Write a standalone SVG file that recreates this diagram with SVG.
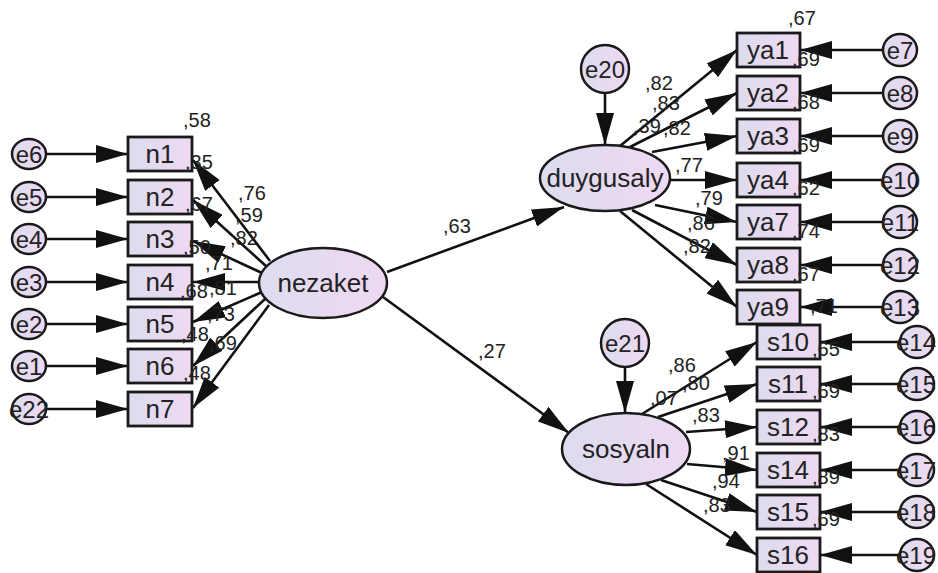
<svg xmlns="http://www.w3.org/2000/svg" width="938" height="573" viewBox="0 0 938 573">
<defs>
<linearGradient id="g" x1="0" y1="0" x2="1" y2="0">
<stop offset="0" stop-color="#dddcee"/>
<stop offset="1" stop-color="#eed9f2"/>
</linearGradient>
<marker id="ah" viewBox="0 0 32 18" refX="32" refY="9" markerWidth="32" markerHeight="18" markerUnits="userSpaceOnUse" orient="auto">
<path d="M0,0 L32,9 L0,18 z" fill="#111"/>
</marker>
<style>
.b{fill:url(#g);stroke:#1a1a1a;stroke-width:2.8}
.c{fill:url(#g);stroke:#1a1a1a;stroke-width:2.5}
.t{font-family:"Liberation Sans",Arial,sans-serif;fill:#222;text-anchor:middle}
.bt{font-size:26px}
.et{font-size:24px}
.lt{font-size:26px}
.v{font-family:"Liberation Sans",Arial,sans-serif;font-size:20px;fill:#222}
.a{stroke:#111;stroke-width:2.6;fill:none;marker-end:url(#ah)}
</style>
</defs>
<rect width="938" height="573" fill="#fff"/>

<g id="connectors">
<line class="a" x1="46" y1="154" x2="128" y2="154"/>
<line class="a" x1="46" y1="197" x2="128" y2="197"/>
<line class="a" x1="46" y1="239" x2="128" y2="239"/>
<line class="a" x1="46" y1="282" x2="128" y2="282"/>
<line class="a" x1="46" y1="324" x2="128" y2="324"/>
<line class="a" x1="46" y1="366" x2="128" y2="366"/>
<line class="a" x1="46" y1="409" x2="128" y2="409"/>
<line class="a" x1="270" y1="261" x2="193" y2="160"/>
<line class="a" x1="266" y1="266" x2="193" y2="200"/>
<line class="a" x1="262" y1="273" x2="193" y2="241"/>
<line class="a" x1="259" y1="282" x2="193" y2="282"/>
<line class="a" x1="262" y1="292" x2="193" y2="322"/>
<line class="a" x1="265" y1="299" x2="193" y2="366"/>
<line class="a" x1="269" y1="305" x2="193" y2="408"/>
<line class="a" x1="387" y1="272" x2="564" y2="207"/>
<line class="a" x1="383" y1="297" x2="569" y2="433"/>
<line class="a" x1="605" y1="94" x2="605" y2="145"/>
<line class="a" x1="625" y1="368" x2="625" y2="413"/>
<line class="a" x1="620" y1="146" x2="737" y2="50"/>
<line class="a" x1="630" y1="147" x2="737" y2="93"/>
<line class="a" x1="652" y1="152" x2="737" y2="136"/>
<line class="a" x1="670" y1="180" x2="737" y2="180"/>
<line class="a" x1="655" y1="205" x2="737" y2="222"/>
<line class="a" x1="632" y1="210" x2="737" y2="265"/>
<line class="a" x1="620" y1="211" x2="737" y2="307"/>
<line class="a" x1="642" y1="414" x2="757" y2="342"/>
<line class="a" x1="658" y1="417" x2="757" y2="384"/>
<line class="a" x1="686" y1="432" x2="757" y2="427"/>
<line class="a" x1="687" y1="464" x2="757" y2="470"/>
<line class="a" x1="661" y1="480" x2="757" y2="512"/>
<line class="a" x1="646" y1="484" x2="757" y2="555"/>
<line class="a" x1="883" y1="50" x2="800" y2="50"/>
<line class="a" x1="883" y1="93" x2="800" y2="93"/>
<line class="a" x1="883" y1="136" x2="800" y2="136"/>
<line class="a" x1="883" y1="180" x2="800" y2="180"/>
<line class="a" x1="883" y1="222" x2="800" y2="222"/>
<line class="a" x1="883" y1="265" x2="800" y2="265"/>
<line class="a" x1="883" y1="307" x2="800" y2="307"/>
<line class="a" x1="900" y1="342" x2="820" y2="342"/>
<line class="a" x1="900" y1="384" x2="820" y2="384"/>
<line class="a" x1="900" y1="427" x2="820" y2="427"/>
<line class="a" x1="900" y1="470" x2="820" y2="470"/>
<line class="a" x1="900" y1="512" x2="820" y2="512"/>
<line class="a" x1="900" y1="555" x2="820" y2="555"/>
</g>

<g id="e6"><ellipse class="c" cx="29" cy="154" rx="17" ry="15"/><text class="t et" x="29" y="163">e6</text></g>
<g id="e5"><ellipse class="c" cx="29" cy="197" rx="17" ry="15"/><text class="t et" x="29" y="206">e5</text></g>
<g id="e4"><ellipse class="c" cx="29" cy="239" rx="17" ry="15"/><text class="t et" x="29" y="248">e4</text></g>
<g id="e3"><ellipse class="c" cx="29" cy="282" rx="17" ry="15"/><text class="t et" x="29" y="291">e3</text></g>
<g id="e2"><ellipse class="c" cx="29" cy="324" rx="17" ry="15"/><text class="t et" x="29" y="333">e2</text></g>
<g id="e1"><ellipse class="c" cx="29" cy="366" rx="17" ry="15"/><text class="t et" x="29" y="375">e1</text></g>
<g id="e22"><ellipse class="c" cx="29" cy="409" rx="17" ry="15"/><text class="t et" x="29" y="418">e22</text></g>

<g id="n1"><rect class="b" x="128" y="137" width="64" height="34"/><text class="t bt" x="160" y="163">n1</text></g>
<g id="n2"><rect class="b" x="128" y="180" width="64" height="34"/><text class="t bt" x="160" y="206">n2</text></g>
<g id="n3"><rect class="b" x="128" y="222" width="64" height="34"/><text class="t bt" x="160" y="248">n3</text></g>
<g id="n4"><rect class="b" x="128" y="265" width="64" height="34"/><text class="t bt" x="160" y="291">n4</text></g>
<g id="n5"><rect class="b" x="128" y="307" width="64" height="34"/><text class="t bt" x="160" y="333">n5</text></g>
<g id="n6"><rect class="b" x="128" y="349" width="64" height="34"/><text class="t bt" x="160" y="375">n6</text></g>
<g id="n7"><rect class="b" x="128" y="392" width="64" height="34"/><text class="t bt" x="160" y="418">n7</text></g>

<g id="nezaket"><ellipse class="c" cx="323" cy="283" rx="64" ry="35"/><text class="t lt" x="323" y="292">nezaket</text></g>
<g id="duygusaly"><ellipse class="c" cx="605" cy="178" rx="65" ry="33"/><text class="t lt" x="605" y="187">duygusaly</text></g>
<g id="sosyaln"><ellipse class="c" cx="626" cy="449" rx="64" ry="36"/><text class="t lt" x="626" y="458">sosyaln</text></g>
<g id="e20"><circle class="c" cx="605" cy="69" r="24"/><text class="t et" x="605" y="78">e20</text></g>
<g id="e21"><circle class="c" cx="625" cy="343" r="24"/><text class="t et" x="625" y="352">e21</text></g>

<g id="ya1"><rect class="b" x="737" y="33" width="63" height="34"/><text class="t bt" x="768" y="59">ya1</text></g>
<g id="ya2"><rect class="b" x="737" y="76" width="63" height="34"/><text class="t bt" x="768" y="102">ya2</text></g>
<g id="ya3"><rect class="b" x="737" y="119" width="63" height="34"/><text class="t bt" x="768" y="145">ya3</text></g>
<g id="ya4"><rect class="b" x="737" y="163" width="63" height="34"/><text class="t bt" x="768" y="189">ya4</text></g>
<g id="ya7"><rect class="b" x="737" y="205" width="63" height="34"/><text class="t bt" x="768" y="231">ya7</text></g>
<g id="ya8"><rect class="b" x="737" y="248" width="63" height="34"/><text class="t bt" x="768" y="274">ya8</text></g>
<g id="ya9"><rect class="b" x="737" y="290" width="63" height="34"/><text class="t bt" x="768" y="316">ya9</text></g>

<g id="s10"><rect class="b" x="757" y="325" width="63" height="34"/><text class="t bt" x="788" y="351">s10</text></g>
<g id="s11"><rect class="b" x="757" y="367" width="63" height="34"/><text class="t bt" x="788" y="393">s11</text></g>
<g id="s12"><rect class="b" x="757" y="410" width="63" height="34"/><text class="t bt" x="788" y="436">s12</text></g>
<g id="s14"><rect class="b" x="757" y="453" width="63" height="34"/><text class="t bt" x="788" y="479">s14</text></g>
<g id="s15"><rect class="b" x="757" y="495" width="63" height="34"/><text class="t bt" x="788" y="521">s15</text></g>
<g id="s16"><rect class="b" x="757" y="538" width="63" height="34"/><text class="t bt" x="788" y="564">s16</text></g>

<g id="e7"><ellipse class="c" cx="900" cy="50" rx="17" ry="16"/><text class="t et" x="900" y="59">e7</text></g>
<g id="e8"><ellipse class="c" cx="900" cy="93" rx="17" ry="16"/><text class="t et" x="900" y="102">e8</text></g>
<g id="e9"><ellipse class="c" cx="900" cy="136" rx="17" ry="16"/><text class="t et" x="900" y="145">e9</text></g>
<g id="e10"><ellipse class="c" cx="900" cy="180" rx="17" ry="16"/><text class="t et" x="900" y="189">e10</text></g>
<g id="e11"><ellipse class="c" cx="900" cy="222" rx="17" ry="16"/><text class="t et" x="900" y="231">e11</text></g>
<g id="e12"><ellipse class="c" cx="900" cy="265" rx="17" ry="16"/><text class="t et" x="900" y="274">e12</text></g>
<g id="e13"><ellipse class="c" cx="900" cy="307" rx="17" ry="16"/><text class="t et" x="900" y="316">e13</text></g>
<g id="e14"><ellipse class="c" cx="917" cy="342" rx="17" ry="16"/><text class="t et" x="916" y="351">e14</text></g>
<g id="e15"><ellipse class="c" cx="917" cy="384" rx="17" ry="16"/><text class="t et" x="916" y="393">e15</text></g>
<g id="e16"><ellipse class="c" cx="917" cy="427" rx="17" ry="16"/><text class="t et" x="916" y="436">e16</text></g>
<g id="e17"><ellipse class="c" cx="917" cy="470" rx="17" ry="16"/><text class="t et" x="916" y="479">e17</text></g>
<g id="e18"><ellipse class="c" cx="917" cy="512" rx="17" ry="16"/><text class="t et" x="916" y="521">e18</text></g>
<g id="e19"><ellipse class="c" cx="917" cy="555" rx="17" ry="16"/><text class="t et" x="916" y="564">e19</text></g>

<g id="labels">
<text class="v" x="183" y="127">,58</text>
<text class="v" x="185" y="169">,35</text>
<text class="v" x="185" y="211">,67</text>
<text class="v" x="183" y="254">,50</text>
<text class="v" x="180" y="298">,68</text>
<text class="v" x="209" y="295">,81</text>
<text class="v" x="181" y="341">,48</text>
<text class="v" x="183" y="380">,48</text>
<text class="v" x="238" y="200">,76</text>
<text class="v" x="235" y="222">,59</text>
<text class="v" x="230" y="245">,82</text>
<text class="v" x="205" y="270">,71</text>
<text class="v" x="207" y="321">,73</text>
<text class="v" x="209" y="350">,69</text>
<text class="v" x="443" y="233">,63</text>
<text class="v" x="478" y="358">,27</text>
<text class="v" x="788" y="25">,67</text>
<text class="v" x="792" y="66">,69</text>
<text class="v" x="792" y="109">,68</text>
<text class="v" x="792" y="152">,69</text>
<text class="v" x="792" y="195">,62</text>
<text class="v" x="792" y="238">,74</text>
<text class="v" x="792" y="281">,67</text>
<text class="v" x="810" y="313">,71</text>
<text class="v" x="645" y="90">,82</text>
<text class="v" x="652" y="110">,83</text>
<text class="v" x="633" y="133">,39</text>
<text class="v" x="663" y="135">,82</text>
<text class="v" x="675" y="172">,77</text>
<text class="v" x="695" y="205">,79</text>
<text class="v" x="687" y="230">,86</text>
<text class="v" x="683" y="253">,82</text>
<text class="v" x="668" y="372">,86</text>
<text class="v" x="682" y="390">,80</text>
<text class="v" x="650" y="405">,07</text>
<text class="v" x="692" y="422">,83</text>
<text class="v" x="722" y="460">,91</text>
<text class="v" x="712" y="488">,94</text>
<text class="v" x="703" y="512">,83</text>
<text class="v" x="812" y="356">,65</text>
<text class="v" x="812" y="398">,69</text>
<text class="v" x="812" y="441">,83</text>
<text class="v" x="812" y="484">,89</text>
<text class="v" x="812" y="526">,69</text>
</g>
</svg>
